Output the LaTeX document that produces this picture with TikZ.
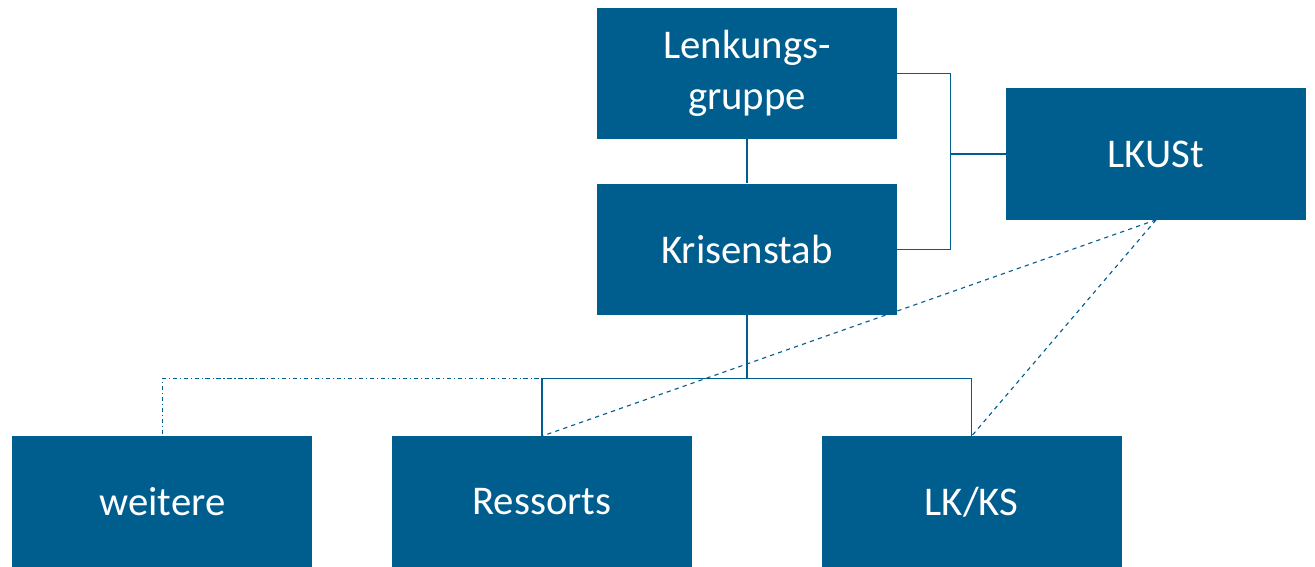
\documentclass[tikz,border=0pt]{standalone}
\usepackage{fontspec}
\setmainfont{Carlito}
\usetikzlibrary{positioning}

\definecolor{stabblau}{HTML}{005E8F}

\tikzset{
  einheit/.style={fill=stabblau, text=white, minimum width=7.5cm, minimum height=3.28cm,
    inner sep=0pt, align=center, font=\fontsize{29}{36}\selectfont},
  linie/.style={draw=stabblau, line width=0.8pt},
}

\begin{document}
\begin{tikzpicture}
  \useasboundingbox (0,0) rectangle (32.875,-14.175);

  \node[einheit] (lenkung) at (18.675,-1.8375) {Lenkungs-\\gruppe};
  \node[einheit, below=1.1cm of lenkung] (krisenstab) {Krisenstab};
  \node[einheit] (lkust) at (28.9,-3.85) {LKUSt};
  \node[einheit] (ressorts) at (13.55,-12.55) {Ressorts};
  \node[einheit, left=1.975cm of ressorts] (weitere) {weitere};
  \node[einheit, right=3.225cm of ressorts] (lkks) {LK/KS};

  \coordinate[left=1.375cm of lkust.west] (knoten);
  \coordinate[below=1.575cm of krisenstab.south] (verteiler);

  %lenkung>krisenstab
  \draw[linie] (lenkung) -- (krisenstab);
  \draw[linie] (lenkung.east) -| (knoten) |- (krisenstab.east);
  \draw[linie] (knoten) -- (lkust.west);

  %krisenstab>unten
  \draw[linie] (krisenstab) -- (verteiler);
  \draw[linie] (ressorts.north) |- (verteiler) -| (lkks.north);
  \draw[linie, dash dot] (verteiler) -| (weitere.north);

  %lkust>unten
  \draw[linie, dashed] (lkust.south) -- (ressorts.north);
  \draw[linie, dashed] (lkust.south) -- (lkks.north);
\end{tikzpicture}
\end{document}
